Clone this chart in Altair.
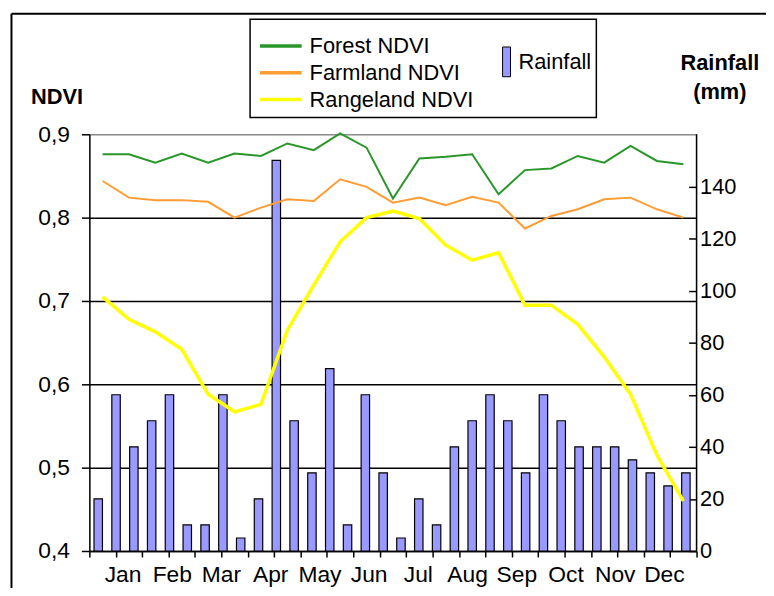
import altair as alt
import pandas as pd

# ---- data ----
months = ["Jan", "Feb", "Mar", "Apr", "May", "Jun", "Jul", "Aug", "Sep", "Oct", "Nov", "Dec"]

rainfall = [20, 60, 40, 50, 60, 10, 10, 60, 5, 20, 150, 50, 30, 70, 10, 60, 30,
            5, 20, 10, 40, 50, 60, 50, 30, 60, 50, 40, 40, 40, 35, 30, 25, 30]

forest = [0.876, 0.876, 0.866, 0.877, 0.866, 0.877, 0.874, 0.889, 0.881, 0.901, 0.884, 0.823,
          0.871, 0.873, 0.876, 0.828, 0.857, 0.859, 0.874, 0.866, 0.886, 0.868, 0.864]
farmland = [0.844, 0.824, 0.821, 0.821, 0.819, 0.800, 0.812, 0.822, 0.820, 0.846, 0.837, 0.818,
            0.824, 0.815, 0.825, 0.818, 0.787, 0.802, 0.810, 0.822, 0.824, 0.810, 0.800]
rangeland = [0.705, 0.678, 0.663, 0.642, 0.588, 0.567, 0.576, 0.665, 0.719, 0.771, 0.800, 0.808,
             0.799, 0.767, 0.749, 0.758, 0.695, 0.695, 0.672, 0.633, 0.588, 0.515, 0.460]

series_names = ["Forest NDVI", "Farmland NDVI", "Rangeland NDVI"]
series_colors = ["#2a962a", "#ff9c33", "#ffff00"]
series_widths = [2, 2, 3.5]

W, H = 612, 420
FONT = "Liberation Sans"

rain_df = pd.DataFrame({"i": list(range(len(rainfall))), "rain": rainfall,
                        "label": ["Rainfall"] * len(rainfall)})
rows = []
for name, vals in zip(series_names, [forest, farmland, rangeland]):
    for k, v in enumerate(vals):
        rows.append({"k": k, "series": name, "ndvi": v})
ndvi_df = pd.DataFrame(rows)
months_df = pd.DataFrame({"m": months, "j": list(range(len(months)))})
one = pd.DataFrame({"a": [0]})

bars = alt.Chart(rain_df).mark_bar(size=8.5, stroke="black", strokeWidth=1.2).encode(
    x=alt.X("i:Q", scale=alt.Scale(domain=[-0.22, 33.32], nice=False, zero=False), axis=None),
    y=alt.Y("rain:Q", scale=alt.Scale(domain=[0, 160], nice=False),
            axis=alt.Axis(orient="right", values=list(range(0, 160, 20)), offset=-8,
                          domain=False, grid=False, tickSize=8, tickColor="black", tickWidth=1.5,
                          labelFont=FONT, labelFontSize=22, labelColor="black", labelPadding=3,
                          title=["Rainfall", "(mm)"], titleAngle=0, titleX=31, titleY=-65,
                          titleAlign="center", titleBaseline="alphabetic", titleLineHeight=29,
                          titleFont=FONT, titleFontSize=22, titleFontWeight="bold",
                          titleColor="black")),
    fill=alt.Fill("label:N", scale=alt.Scale(domain=["Rainfall"], range=["#9999ff"]),
                  legend=alt.Legend(title=None, orient="none", legendX=409.5, legendY=-84,
                                    symbolType="M-0.8,-3H0.8V3H-0.8Z", symbolSize=100,
                                    symbolStrokeColor="black", symbolStrokeWidth=1,
                                    labelFont=FONT, labelFontSize=22, labelColor="black",
                                    labelOffset=1, padding=0)),
)

x_pos = alt.X("pos:Q", scale=alt.Scale(domain=[0, 23], nice=False, zero=False),
              axis=alt.Axis(values=list(range(24)), labels=False, grid=False, domainColor="black",
                            domainWidth=1.5, tickSize=6, tickColor="black", tickWidth=1.5,
                            title=None))
y_ndvi = alt.Y("ndvi:Q", scale=alt.Scale(domain=[0.4, 0.9], nice=False, zero=False),
               axis=alt.Axis(orient="left", values=[0.4, 0.5, 0.6, 0.7, 0.8, 0.9], format=".1f",
                             labelExpr="replace(datum.label, '.', ',')",
                             grid=True,
                             gridColor={"condition": {"test": "datum.value > 0.85", "value": "#8c8c8c"},
                                        "value": "black"},
                             gridWidth=1.5, domainColor="black", domainWidth=1.5,
                             tickSize=8, tickColor="black", tickWidth=1.5,
                             labelFont=FONT, labelFontSize=23, labelColor="black", labelPadding=12,
                             title="NDVI", titleAngle=0, titleX=-33, titleY=-31,
                             titleAlign="center", titleBaseline="alphabetic",
                             titleFont=FONT, titleFontSize=22, titleFontWeight="bold",
                             titleColor="black"))
color_enc = alt.Color("series:N", scale=alt.Scale(domain=series_names, range=series_colors),
                      legend=alt.Legend(title=None, orient="none", legendX=177, legendY=-105,
                                        direction="vertical", symbolType="M-1.5,0H1.5",
                                        symbolSize=784, symbolStrokeWidth=3.5,
                                        labelFont=FONT, labelFontSize=22, labelColor="black",
                                        labelOffset=13, rowPadding=0, padding=0, labelLimit=300))

line_layers = []
for name, sw in zip(series_names, series_widths):
    line_layers.append(
        alt.Chart(ndvi_df)
        .transform_filter(alt.datum.series == name)
        .transform_calculate(pos="datum.k + 0.5")
        .mark_line(strokeWidth=sw)
        .encode(x=x_pos, y=y_ndvi, color=color_enc)
    )
lines = alt.layer(*line_layers)

month_text = alt.Chart(months_df).mark_text(font=FONT, fontSize=23, baseline="middle",
                                             align="center", color="black").encode(
    x=alt.X("j:Q", scale=alt.Scale(domain=[-0.685, 11.653], nice=False, zero=False), axis=None),
    y=alt.value(H + 24),
    text="m:N",
)

right_edge = alt.Chart(one).mark_rule(color="black", strokeWidth=1.5).encode(
    x=alt.value(W), y=alt.value(0), y2=alt.value(H))
outer_left = alt.Chart(one).mark_rule(color="black", strokeWidth=2).encode(
    x=alt.value(-78.5), y=alt.value(-121.5), y2=alt.value(H + 80))
outer_top = alt.Chart(one).mark_rule(color="black", strokeWidth=2).encode(
    x=alt.value(-78.5), x2=alt.value(W + 90), y=alt.value(-121.5))
legend_frame = alt.Chart(one).mark_rect(fillOpacity=0, stroke="black", strokeWidth=1.5).encode(
    x=alt.value(162), x2=alt.value(511), y=alt.value(-116), y2=alt.value(-17))

chart = alt.layer(
    bars, lines, month_text, right_edge, outer_left, outer_top, legend_frame
).resolve_scale(
    x="independent", y="independent"
).properties(
    width=W, height=H,
    padding={"left": 82, "top": 125, "right": 70, "bottom": 35},
    autosize=alt.AutoSizeParams(type="none"),
    background="white",
).configure_view(strokeWidth=0).configure(font=FONT)

chart.save("out.html", embed_options={"renderer": "svg", "actions": False})
